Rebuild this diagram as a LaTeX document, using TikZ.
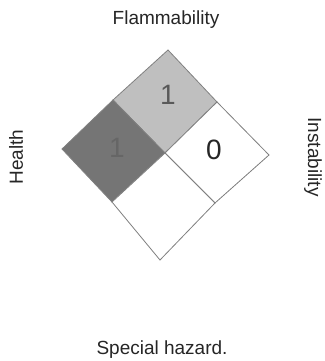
\documentclass[tikz,border=0pt]{standalone}
\usepackage{fontspec}
\setmainfont{Liberation Sans}
\begin{document}
\begin{tikzpicture}[x=1pt,y=-1pt,
  cell/.style={draw=black!50, line width=0.8pt, line join=miter},
  lbl/.style={font=\fontsize{19}{22}\selectfont, text=black!85, inner sep=0pt},
  num/.style={font=\fontsize{28}{30}\selectfont, inner sep=0pt}]
\useasboundingbox[fill=white] (0,0) rectangle (324,361);
% diamond vertices
\coordinate (T) at (168,50);
\coordinate (L) at (62,149);
\coordinate (R) at (269,155);
\coordinate (B) at (160,260);
\coordinate (C) at (165,153);
\coordinate (TL) at (113,100);
\coordinate (TR) at (217,102);
\coordinate (BL) at (112,202);
\coordinate (BR) at (215,203);
% cells
\filldraw[cell, fill=black!25] (T) -- (TR) -- (C) -- (TL) -- cycle;
\filldraw[cell, fill=black!54] (TL) -- (C) -- (BL) -- (L) -- cycle;
\filldraw[cell, fill=white] (TR) -- (R) -- (BR) -- (C) -- cycle;
\filldraw[cell, fill=white] (C) -- (BR) -- (B) -- (BL) -- cycle;
% numbers
\node[num, text=black!65] (nf) at (168,95) {1};
\node[num, text=black!60] (nh) at (117,148) {1};
\node[num, text=black!85] (ni) at (214,150) {0};
% labels
\node[lbl] (flam) at (166,20) {Flammability};
\node[lbl, rotate=90] (health) at (16,157) {Health};
\node[lbl, rotate=-90] (inst) at (313,157) {Instability};
\node[lbl] (spec) at (162,350) {Special hazard.};
\end{tikzpicture}
\end{document}
